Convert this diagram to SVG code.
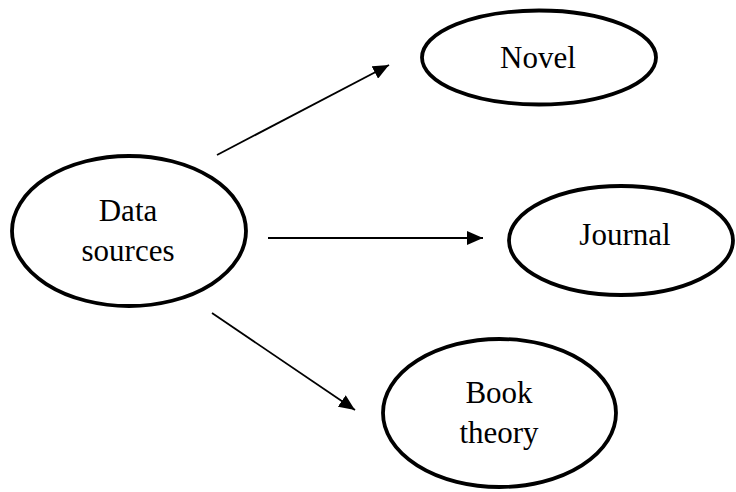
<svg xmlns="http://www.w3.org/2000/svg" width="736" height="492" viewBox="0 0 736 492">
<defs>
<style>
.node ellipse{fill:#fff;stroke:#000;stroke-width:3.8}
.node text{font-family:"Liberation Serif","Times New Roman",serif;font-size:31px;fill:#000;text-anchor:middle}
.edge{stroke:#000;stroke-width:1.8;fill:none;marker-end:url(#ah)}
</style>
<marker id="ah" markerUnits="userSpaceOnUse" markerWidth="16" markerHeight="14" refX="16" refY="7" orient="auto">
<path d="M0,0 L16,7 L0,14 Z" fill="#000"/>
</marker>
</defs>
<rect width="736" height="492" fill="#fff"/>
<g id="connectors">
<line class="edge" x1="217" y1="155" x2="389" y2="65"/>
<line class="edge" x1="268" y1="238" x2="483" y2="238"/>
<line class="edge" x1="212" y1="313" x2="355" y2="410"/>
</g>
<g id="data-sources" class="node">
<ellipse cx="129" cy="231" rx="117" ry="75"/>
<text x="128" y="221">Data</text>
<text x="128" y="261">sources</text>
</g>
<g id="novel" class="node">
<ellipse cx="539" cy="57.5" rx="117" ry="47"/>
<text x="538" y="68">Novel</text>
</g>
<g id="journal" class="node">
<ellipse cx="621" cy="240.5" rx="112" ry="54.5"/>
<text x="625" y="245">Journal</text>
</g>
<g id="book-theory" class="node">
<ellipse cx="499.5" cy="413" rx="116.5" ry="74"/>
<text x="499" y="403">Book</text>
<text x="499" y="443">theory</text>
</g>
</svg>
